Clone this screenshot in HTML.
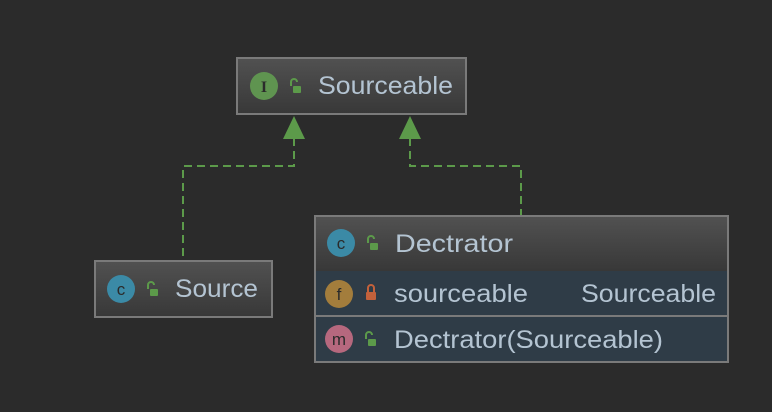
<!DOCTYPE html><html><head><style>
body{margin:0;width:772px;height:412px;background:#2b2b2b;overflow:hidden;font-family:"Liberation Sans","DejaVu Sans",sans-serif}
</style></head><body>
<svg width="772" height="412" xmlns="http://www.w3.org/2000/svg" style="position:absolute;left:0;top:0">
<defs>
<linearGradient id="h" x1="0" y1="0" x2="0" y2="1"><stop offset="0" stop-color="#515151"/><stop offset="1" stop-color="#383838"/></linearGradient>
<g id="lk"><path d="M-3,-2 v-4 a3,3 0 0 1 6,0" fill="none" stroke="#5c9a4a" stroke-width="2"/><rect x="-1" y="-2" width="8" height="7" rx="1" fill="#5c9a4a"/></g>
</defs>
<g stroke="#5c9a4a" stroke-width="2" stroke-dasharray="8,5" fill="none">
<path d="M294,138 V166 H183 V260"/>
<path d="M410,138 V166 H521 V215"/>
</g>
<polygon points="294,116 283,139 305,139" fill="#5c9a4a"/>
<polygon points="410,116 399,139 421,139" fill="#5c9a4a"/>
<g fill="#b4c4d2" font-size="25" lengthAdjust="spacingAndGlyphs">
<!-- Sourceable -->
<rect x="237" y="58" width="229" height="56" fill="url(#h)" stroke="#7a7a7a" stroke-width="2"/>
<circle cx="264" cy="86" r="14" fill="#5f9450"/>
<text x="264" y="92" fill="#2b2b2b" font-size="16" text-anchor="middle" font-family="Liberation Serif,serif" font-weight="bold">I</text>
<use href="#lk" x="294" y="88"/>
<text x="318" y="94" textLength="135" lengthAdjust="spacingAndGlyphs">Sourceable</text>
<!-- Source -->
<rect x="95" y="261" width="177" height="56" fill="url(#h)" stroke="#7a7a7a" stroke-width="2"/>
<circle cx="121" cy="289" r="14" fill="#3b8aa6"/>
<text x="121" y="295" fill="#2b2b2b" font-size="17" text-anchor="middle">c</text>
<use href="#lk" x="151" y="291"/>
<text x="175" y="297" textLength="83" lengthAdjust="spacingAndGlyphs">Source</text>
<!-- Dectrator -->
<rect x="315" y="216" width="413" height="146" fill="#2f3c47" stroke="#7a7a7a" stroke-width="2"/>
<rect x="316" y="217" width="411" height="54" fill="url(#h)"/>
<line x1="315" y1="316" x2="728" y2="316" stroke="#7a7a7a" stroke-width="2"/>
<circle cx="341" cy="243" r="14" fill="#3b8aa6"/>
<text x="341" y="249" fill="#2b2b2b" font-size="17" text-anchor="middle">c</text>
<use href="#lk" x="371" y="245"/>
<text x="395" y="252" textLength="118" lengthAdjust="spacingAndGlyphs">Dectrator</text>
<circle cx="339" cy="294" r="14" fill="#a37d3c"/>
<text x="339" y="300" fill="#2b2b2b" font-size="17" text-anchor="middle">f</text>
<path d="M368,292 v-4 a3,3 0 0 1 6,0 v4" fill="none" stroke="#c3613b" stroke-width="2"/><rect x="366" y="292" width="10" height="8" rx="1" fill="#c3613b"/>
<text x="394" y="302" textLength="134" lengthAdjust="spacingAndGlyphs">sourceable</text>
<text x="581" y="302" textLength="135" lengthAdjust="spacingAndGlyphs">Sourceable</text>
<circle cx="339" cy="339" r="14" fill="#b6687e"/>
<text x="339" y="345" fill="#2b2b2b" font-size="17" text-anchor="middle">m</text>
<use href="#lk" x="369" y="341"/>
<text x="394" y="348" textLength="269" lengthAdjust="spacingAndGlyphs">Dectrator(Sourceable)</text>
</g>
</svg>
</body></html>
